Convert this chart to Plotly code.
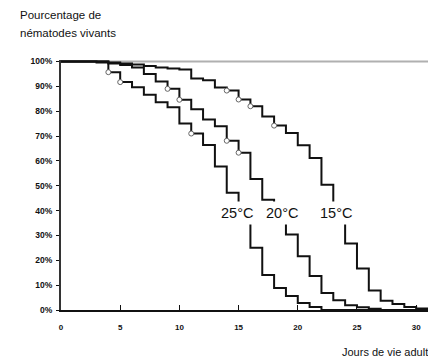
import plotly.graph_objects as go

# ---- data ----
days = list(range(0, 32))

surv_25 = [100, 100, 100, 100, 95.7, 91.7, 89.6, 86.6, 83.6, 81.6, 75.0, 71.0, 66.4, 57.7,
           47.2, 39.0, 25.0, 14.1, 8.9, 5.6, 2.8, 1.2, 0, 0, 0, 0, 0, 0, 0, 0, 0, 0]
surv_20 = [100, 100, 100, 99.6, 99.2, 98.6, 97.6, 95.0, 91.9, 89.0, 84.6, 80.8, 76.7, 73.9,
           68.1, 63.3, 52.7, 44.4, 39.0, 30.4, 21.6, 13.7, 6.8, 3.9, 1.9, 1.1, 0.5, 0, 0, 0, 0, 0]
surv_15 = [100, 100, 100, 100, 99.6, 99.2, 98.8, 98.2, 97.6, 97.2, 96.8, 93.2, 92.5, 89.5,
           88.3, 84.7, 82.0, 77.9, 74.2, 71.2, 66.3, 61.2, 50.4, 39.0, 26.8, 16.7, 7.8, 3.7,
           2.4, 1.2, 0.6, 0]

marks_25 = [4, 5, 11]
marks_20 = [9, 10, 14, 15]
marks_15 = [14, 15, 16, 18]

labels = ["25°C", "20°C", "15°C"]
label_days = [14.9, 18.7, 23.25]
label_level = 39

x_ticks = [0, 5, 10, 15, 20, 25, 30]
y_ticks = [0, 10, 20, 30, 40, 50, 60, 70, 80, 90, 100]
y_ticktext = [f"{v}%" for v in y_ticks]

FONT = "Liberation Sans, Arial, sans-serif"
INK = "#111111"

W, H = 428, 356
L, R, T, B = 61, 0, 60, 46
pw, ph = W - L - R, H - T - B

def px(xp):
    return (xp - L) / pw

def py(yp):
    return (H - B - yp) / ph

fig = go.Figure()

for series in (surv_25, surv_20, surv_15):
    fig.add_trace(go.Scatter(x=days, y=series, mode="lines", line_shape="hv",
                             line=dict(color=INK, width=2), hoverinfo="skip",
                             showlegend=False))

for series, marks in ((surv_25, marks_25), (surv_20, marks_20), (surv_15, marks_15)):
    fig.add_trace(go.Scatter(x=marks, y=[series[d] for d in marks], mode="markers",
                             marker=dict(symbol="circle", size=5, color="white",
                                         line=dict(color="#666666", width=1)),
                             hoverinfo="skip", showlegend=False, cliponaxis=False))

for txt, xd in zip(labels, label_days):
    fig.add_annotation(x=xd, y=label_level, xref="x", yref="y", text=txt, showarrow=False,
                       font=dict(family=FONT, size=14.5, color=INK),
                       bgcolor="white", borderpad=3)

# grey reference line at 100 %
fig.add_shape(type="line", xref="paper", yref="y", x0=0, x1=1, y0=100, y1=100,
              line=dict(color="#b0b0b0", width=2), layer="below")

fig.add_annotation(x=px(18), y=py(7), xref="paper", yref="paper", xanchor="left",
                   yanchor="top", showarrow=False, text="Pourcentage de",
                   font=dict(family=FONT, size=11.5, color=INK))
fig.add_annotation(x=px(18), y=py(25), xref="paper", yref="paper", xanchor="left",
                   yanchor="top", showarrow=False, text="nématodes vivants",
                   font=dict(family=FONT, size=11.5, color=INK))
fig.add_annotation(x=px(340), y=py(344), xref="paper", yref="paper", xanchor="left",
                   yanchor="top", showarrow=False, text="Jours de vie adulte",
                   font=dict(family=FONT, size=11, color=INK))

fig.update_layout(
    width=W, height=H,
    margin=dict(l=L, r=R, t=T, b=B, autoexpand=False),
    paper_bgcolor="white", plot_bgcolor="white",
    font=dict(family=FONT, color=INK),
    hovermode=False,
    xaxis=dict(range=[0, 31], tickvals=x_ticks, ticks="inside", ticklen=5, tickwidth=1,
               tickcolor=INK, showline=True, linecolor=INK, linewidth=2,
               showgrid=False, zeroline=False, ticklabelstandoff=8, automargin=False,
               tickfont=dict(family=FONT, size=8, weight="bold")),
    yaxis=dict(range=[0, 100.6], tickvals=y_ticks, ticktext=y_ticktext, ticks="outside",
               ticklen=3, tickwidth=1, tickcolor=INK, showline=True,
               linecolor="#333333", linewidth=2, showgrid=False, zeroline=False,
               ticklabelstandoff=2, automargin=False,
               tickfont=dict(family=FONT, size=8.5, weight="bold")),
)

fig.write_html("out.html", config={"displayModeBar": False, "staticPlot": True},
               post_script="document.body.style.margin='0px';")
